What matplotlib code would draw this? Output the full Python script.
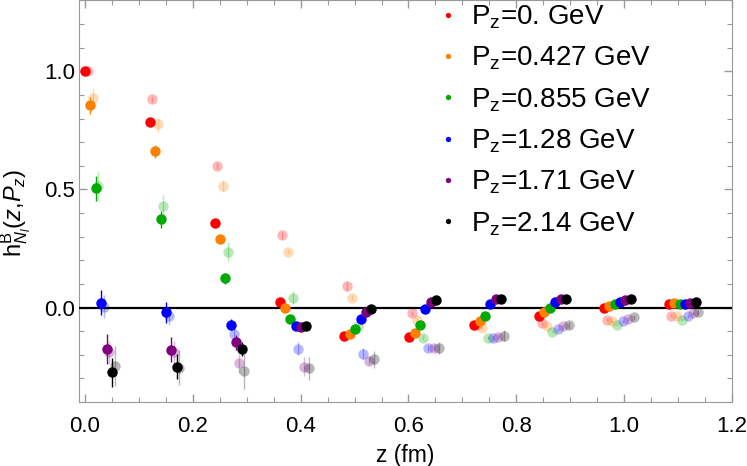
import matplotlib as mpl
mpl.use('Agg')

import numpy as np
import matplotlib.pyplot as plt
from matplotlib.lines import Line2D
from matplotlib.ticker import MultipleLocator

plt.rcParams['font.family'] = ['Liberation Sans', 'DejaVu Sans']
plt.rcParams['mathtext.fontset'] = 'custom'
plt.rcParams['mathtext.rm'] = 'Liberation Sans'
plt.rcParams['mathtext.it'] = 'Liberation Sans:italic'

# lattice separations (fm) and momenta
a_fm = 0.1203
z_index = np.arange(10)
labels = ['P$_\\mathrm{z}$=0. GeV', 'P$_\\mathrm{z}$=0.427 GeV', 'P$_\\mathrm{z}$=0.855 GeV',
          'P$_\\mathrm{z}$=1.28 GeV', 'P$_\\mathrm{z}$=1.71 GeV', 'P$_\\mathrm{z}$=2.14 GeV']
colors = ['#ff0000', '#ff8000', '#00aa00', '#0000ff', '#800080', '#000000']

# solid points
h_red = [1.0, 0.784, 0.356, 0.025, -0.119, -0.123, -0.076, -0.034, 0.0, 0.017]
h_orange = [0.856, 0.661, 0.288, 0.0, -0.114, -0.106, -0.059, -0.021, 0.008, 0.021]
h_green = [0.504, 0.373, 0.123, -0.047, -0.093, -0.072, -0.034, -0.004, 0.013, 0.017]
h_blue = [0.021, -0.021, -0.072, -0.08, -0.047, -0.008, 0.017, 0.025, 0.025, 0.017]
h_purple = [-0.174, -0.178, -0.148, -0.083, -0.021, 0.025, 0.038, 0.038, 0.03, 0.021]
h_black = [-0.275, -0.25, -0.174, -0.08, -0.008, 0.03, 0.038, 0.038, 0.034, 0.025]

e_red = [0.003, 0.005, 0.005, 0.005, 0.005, 0.005, 0.004, 0.004, 0.004, 0.004]
e_orange = [0.035, 0.027, 0.01, 0.008, 0.006, 0.005, 0.005, 0.004, 0.004, 0.004]
e_green = [0.053, 0.035, 0.025, 0.01, 0.008, 0.006, 0.005, 0.005, 0.004, 0.004]
e_blue = [0.052, 0.043, 0.025, 0.012, 0.008, 0.006, 0.005, 0.005, 0.004, 0.004]
e_purple = [0.064, 0.053, 0.03, 0.012, 0.008, 0.006, 0.005, 0.005, 0.004, 0.004]
e_black = [0.062, 0.053, 0.03, 0.012, 0.008, 0.006, 0.005, 0.005, 0.004, 0.004]

# faded points
f_red = [1.0, 0.881, 0.60, 0.305, 0.089, -0.025, -0.072, -0.064, -0.051, -0.034]
f_orange = [0.886, 0.775, 0.513, 0.237, 0.042, -0.051, -0.085, -0.08, -0.059, -0.038]
f_green = [0.513, 0.428, 0.237, 0.042, -0.08, -0.127, -0.127, -0.102, -0.072, -0.051]
f_blue = [0.004, -0.034, -0.11, -0.174, -0.195, -0.17, -0.131, -0.093, -0.059, -0.038]
f_purple = [-0.19, -0.19, -0.237, -0.25, -0.225, -0.17, -0.123, -0.08, -0.047, -0.025]
f_black = [-0.246, -0.254, -0.267, -0.258, -0.22, -0.17, -0.119, -0.076, -0.042, -0.021]

fe_red = [0.005, 0.01, 0.012, 0.015, 0.018, 0.012, 0.01, 0.008, 0.006, 0.005]
fe_orange = [0.042, 0.033, 0.025, 0.012, 0.01, 0.01, 0.008, 0.006, 0.005, 0.005]
fe_green = [0.06, 0.05, 0.04, 0.028, 0.012, 0.01, 0.008, 0.006, 0.005, 0.005]
fe_blue = [0.05, 0.04, 0.02, 0.028, 0.025, 0.012, 0.01, 0.008, 0.006, 0.005]
fe_purple = [0.05, 0.05, 0.04, 0.04, 0.02, 0.015, 0.012, 0.01, 0.008, 0.006]
fe_black = [0.085, 0.074, 0.08, 0.05, 0.035, 0.025, 0.023, 0.015, 0.01, 0.01]

solid = [h_red, h_orange, h_green, h_blue, h_purple, h_black]
solid_err = [e_red, e_orange, e_green, e_blue, e_purple, e_black]
faded = [f_red, f_orange, f_green, f_blue, f_purple, f_black]
faded_err = [fe_red, fe_orange, fe_green, fe_blue, fe_purple, fe_black]

fig = plt.figure(figsize=(7.47, 4.66), dpi=100)
ax = fig.add_axes([79 / 747, 1 - 402 / 466, (732 - 79) / 747, 402 / 466 - 0.001])

z = z_index * a_fm
for i in range(6):
    ax.errorbar(z + 0.01 * i + 0.005, faded[i], yerr=faded_err[i], fmt='o',
                color=colors[i], ms=7.5, mew=0, elinewidth=1, capsize=2.8,
                alpha=0.28, zorder=2)

ax.axhline(0, color='black', lw=1.6, zorder=3)

for i in range(6):
    ax.errorbar(z + 0.01 * i, solid[i], yerr=solid_err[i], fmt='o',
                color=colors[i], ms=7.5, mew=0, elinewidth=1, capsize=2.8,
                zorder=4)

ax.set_xlim(-0.011, 1.2)
ax.set_ylim(-0.4, 1.3)
ax.xaxis.set_major_locator(MultipleLocator(0.2))
ax.xaxis.set_minor_locator(MultipleLocator(0.05))
ax.yaxis.set_major_locator(MultipleLocator(0.5))
ax.yaxis.set_minor_locator(MultipleLocator(0.1))
ax.xaxis.set_major_formatter(plt.FuncFormatter(lambda v, p: '%.1f' % v))
ax.yaxis.set_major_formatter(plt.FuncFormatter(lambda v, p: '%.1f' % (v + 0.0)))

ax.tick_params(which='both', direction='in', top=True, right=True,
               color='#999999', labelsize=16)
ax.tick_params(axis='x', pad=10)
ax.tick_params(axis='y', pad=3)
ax.tick_params(which='major', length=6, width=1)
ax.tick_params(which='minor', length=3.5, width=0.8)
for s in ax.spines.values():
    s.set_color('#999999')

ax.set_xlabel('z (fm)', fontsize=16.5)
ax.xaxis.set_label_coords(0.5, -0.105)
ax.set_ylabel(r'h$^{\mathrm{B}}_{N_l}$($z$,$P_z$)', fontsize=17)
ax.yaxis.set_label_coords(-0.07, 0.47)

handles = [Line2D([], [], ls='none', marker='o', ms=3.8, mew=0, color=c)
           for c in colors]
ax.legend(handles, labels, loc='upper left', bbox_to_anchor=(0.555, 0.993),
          frameon=False, fontsize=20, handlelength=0.5, handletextpad=0.55,
          labelspacing=0.5, borderpad=0, borderaxespad=0)

plt.savefig('out.png', dpi=100)
plt.close()
